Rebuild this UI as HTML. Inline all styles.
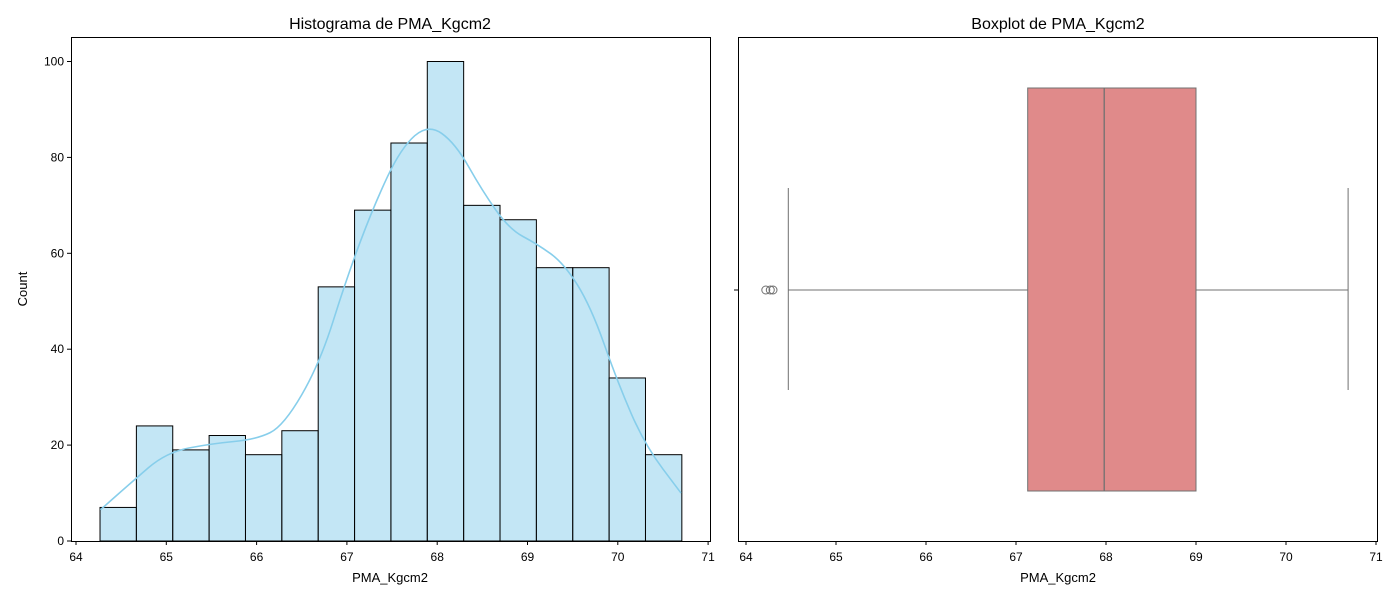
<!DOCTYPE html>
<html><head><meta charset="utf-8"><style>
body{margin:0;background:#fff;}
svg text{font-family:"Liberation Sans","DejaVu Sans",sans-serif;fill:#000;}
</style></head><body>
<svg id="chart" width="1400" height="600" xmlns="http://www.w3.org/2000/svg">
<g id="left"></g>
<g id="right"></g>
</svg>
<script>
const binStart = 64.266;
const binWidth = 0.4027;
const counts = [7,24,19,22,18,23,53,69,83,100,70,67,57,57,34,18];
const kdeX = [64.27,64.6,65.0,65.5,66.0,66.3,66.7,67.0,67.3,67.6,67.9,68.2,68.5,68.8,69.1,69.4,69.7,70.0,70.3,70.7];
const kdeY = [6.5,12,18.5,20.3,21.2,24,37,55,70,82,87,83,73,65,62,58,49,33,20,10];
const xTicks = [64,65,66,67,68,69,70,71];
const yTicks = [0,20,40,60,80,100];
const boxStats = {q1:67.13, med:67.98, q3:69.0, lo:64.47, hi:70.69};
const outliers = [64.22,64.27,64.30];

const NS="http://www.w3.org/2000/svg";
function mk(parent,tag,attrs,text){const e=document.createElementNS(NS,tag);for(const k in attrs)e.setAttribute(k,attrs[k]);if(text!==undefined)e.textContent=text;parent.appendChild(e);return e;}

// left
const L=document.getElementById('left');
const lx=v=>76+(v-64)*90.3;
const ly=v=>541-v*4.795;
counts.forEach((c,i)=>{
  const x0=lx(binStart+i*binWidth), x1=lx(binStart+(i+1)*binWidth);
  const r=mk(L,'rect',{x:x0,y:ly(c),width:x1-x0,height:ly(0)-ly(c),fill:'rgba(135,206,235,0.5)',stroke:'#000','stroke-width':1});
  
  
});
let d='';
for(let i=0;i<kdeX.length;i++){
  const x=lx(kdeX[i]),y=ly(kdeY[i]);
  if(i===0)d+='M'+x+','+y;
  else{const px=lx(kdeX[i-1]),py=ly(kdeY[i-1]);const mx=(px+x)/2;d+=' Q'+px+','+py+' '+mx+','+(py+y)/2;}
}
d+=' L'+lx(kdeX[kdeX.length-1])+','+ly(kdeY[kdeY.length-1]);
const kde=mk(L,'path',{d:d,fill:'none',stroke:'#87ceeb','stroke-width':1.6});


mk(L,'rect',{x:71.5,y:37.5,width:639,height:504,fill:'none',stroke:'#000','stroke-width':1});
xTicks.forEach(t=>{const x=lx(t);mk(L,'line',{x1:x,x2:x,y1:541,y2:545,stroke:'#000'});
  const tx=mk(L,'text',{x:x,y:561,'text-anchor':'middle','font-size':12},t);
  });
yTicks.forEach(t=>{const y=ly(t);mk(L,'line',{x1:67,x2:71,y1:y,y2:y,stroke:'#000'});
  const tx=mk(L,'text',{x:64,y:y+4,'text-anchor':'end','font-size':12},t);
  });
const t1=mk(L,'text',{x:390,y:29,'text-anchor':'middle','font-size':16},'Histograma de PMA_Kgcm2');

const xl=mk(L,'text',{x:390,y:582,'text-anchor':'middle','font-size':13},'PMA_Kgcm2');

const yl=mk(L,'text',{x:27,y:289,'text-anchor':'middle','font-size':13,transform:'rotate(-90 27 289)'},'Count');


// right
const R=document.getElementById('right');
const rx=v=>746+(v-64)*90;
const cy=290;
const g='#707070';
const w1=mk(R,'line',{x1:rx(boxStats.lo),x2:rx(boxStats.q1),y1:cy,y2:cy,stroke:g});

const w2=mk(R,'line',{x1:rx(boxStats.q3),x2:rx(boxStats.hi),y1:cy,y2:cy,stroke:g});

mk(R,'line',{x1:rx(boxStats.lo),x2:rx(boxStats.lo),y1:188,y2:390,stroke:g});
mk(R,'line',{x1:rx(boxStats.hi),x2:rx(boxStats.hi),y1:188,y2:390,stroke:g});
const box=mk(R,'rect',{x:rx(boxStats.q1),y:88,width:rx(boxStats.q3)-rx(boxStats.q1),height:403,fill:'#e08a8a',stroke:g});

const med=mk(R,'line',{x1:rx(boxStats.med),x2:rx(boxStats.med),y1:88,y2:491,stroke:g,'stroke-width':1.3});

outliers.forEach(o=>{const c=mk(R,'circle',{cx:rx(o),cy:cy,r:4,fill:'none',stroke:g});
  });
mk(R,'rect',{x:738.5,y:37.5,width:639,height:504,fill:'none',stroke:'#000','stroke-width':1});
mk(R,'line',{x1:734,x2:738,y1:cy,y2:cy,stroke:'#000'});
xTicks.forEach(t=>{const x=rx(t);mk(R,'line',{x1:x,x2:x,y1:541,y2:545,stroke:'#000'});
  const tx=mk(R,'text',{x:x,y:561,'text-anchor':'middle','font-size':12},t);
  });
const t2=mk(R,'text',{x:1058,y:29,'text-anchor':'middle','font-size':16},'Boxplot de PMA_Kgcm2');

const xl2=mk(R,'text',{x:1058,y:582,'text-anchor':'middle','font-size':13},'PMA_Kgcm2');

</script>
</body></html>
